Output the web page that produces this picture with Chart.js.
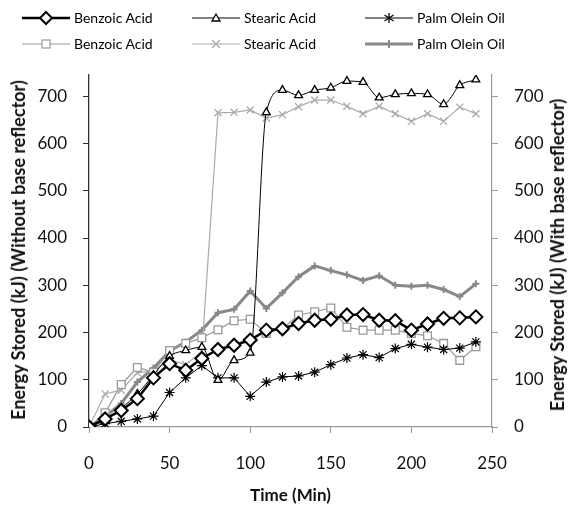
<!DOCTYPE html>
<html>
<head>
<meta charset="utf-8">
<script src="https://cdn.jsdelivr.net/npm/chart.js@4.4.1/dist/chart.umd.min.js"></script>
<style>
html,body{margin:0;padding:0;background:#fff;}
#wrap{position:relative;width:576px;height:506px;}
#c{position:absolute;left:0;top:0;}
.lg{position:absolute;display:flex;align-items:center;font-family:Lato,"Open Sans",sans-serif;font-size:14px;color:#000;white-space:nowrap;}
.lg svg{margin-right:4px;}
.vt{position:absolute;transform:translate(-50%,-50%) rotate(-90deg);font-family:Lato,"Open Sans",sans-serif;font-size:18px;font-weight:bold;color:#111;white-space:nowrap;line-height:20px;}
</style>
</head>
<body>
<div id="wrap">
<canvas id="c" width="576" height="506"></canvas>
<div class="lg" style="left:22px;top:9px;"><svg width="48" height="16"><line x1="0" y1="8" x2="48" y2="8" stroke="#000" stroke-width="2.5"/><polygon points="24,2 30,8 24,14 18,8" fill="#fff" stroke="#000" stroke-width="2"/></svg>Benzoic Acid</div>
<div class="lg" style="left:192px;top:9px;"><svg width="48" height="16"><line x1="0" y1="8" x2="48" y2="8" stroke="#000" stroke-width="1"/><polygon points="24,4 28,11 20,11" fill="#fff" stroke="#000" stroke-width="1.3"/></svg>Stearic Acid</div>
<div class="lg" style="left:365px;top:9px;"><svg width="48" height="16"><line x1="0" y1="8" x2="48" y2="8" stroke="#000" stroke-width="1"/><path d="M24,3 L24,13 M19.5,5 L28.5,11 M28.5,5 L19.5,11" stroke="#000" stroke-width="1.3"/></svg>Palm Olein Oil</div>
<div class="lg" style="left:22px;top:35px;"><svg width="48" height="16"><line x1="0" y1="8" x2="48" y2="8" stroke="#999" stroke-width="1"/><rect x="20" y="4" width="8" height="8" fill="#fff" stroke="#999" stroke-width="1.2"/></svg>Benzoic Acid</div>
<div class="lg" style="left:192px;top:35px;"><svg width="48" height="16"><line x1="0" y1="8" x2="48" y2="8" stroke="#aaa" stroke-width="1"/><path d="M20,4 L28,12 M28,4 L20,12" stroke="#aaa" stroke-width="1.2"/></svg>Stearic Acid</div>
<div class="lg" style="left:365px;top:35px;"><svg width="48" height="16"><line x1="0" y1="8" x2="48" y2="8" stroke="#888" stroke-width="3"/><path d="M24,4 L24,12" stroke="#888" stroke-width="2"/></svg>Palm Olein Oil</div>
<div class="vt" style="left:18px;top:250px;">Energy Stored (kJ) (Without base reflector)</div>
<div class="vt" style="left:557px;top:255px;">Energy Stored (kJ) (With base reflector)</div>
</div>
<script>
const timeMin = [0,10,20,30,40,50,60,70,80,90,100,110,120,130,140,150,160,170,180,190,200,210,220,230,240];
const benzoicWithout = [0,17,35,60,104,134,120,145,164,173,184,205,208,219,226,228,237,238,226,225,205,218,230,231,233];
const stearicWithout = [0,15,40,70,110,150,162,169,99,141,157,666,713,702,713,718,732,730,697,704,706,704,683,723,735];
const palmWithout = [0,7,12,17,23,73,104,130,104,104,65,95,106,108,116,132,146,153,147,166,175,169,164,167,180];
const benzoicWith = [0,30,90,126,116,162,177,189,206,225,228,198,208,237,244,252,211,205,205,205,198,193,177,141,170];
const stearicWith = [0,70,78,115,118,142,132,160,665,666,671,654,661,678,692,692,679,663,679,663,647,663,647,677,663];
const palmWith = [0,22,50,95,125,161,180,205,242,249,288,251,284,318,341,331,322,310,320,300,298,300,291,276,303];
const yTicks = [0,100,200,300,400,500,600,700];
const xTicks = [0,50,100,150,200,250];

const pts = arr => arr.map((v,i)=>({x:timeMin[i], y:v}));
const FONT = 'Lato, "Open Sans", sans-serif';

const datasets = [
  {label:'Benzoic Acid', data:pts(benzoicWithout), yAxisID:'y', borderColor:'#000', borderWidth:2.5, pointStyle:'rectRot', pointRadius:6.5, pointBorderWidth:2, pointBackgroundColor:'#fff', pointBorderColor:'#000'},
  {label:'Stearic Acid', data:pts(stearicWithout), yAxisID:'y', borderColor:'#000', borderWidth:1, pointStyle:'triangle', pointRadius:4.5, pointBorderWidth:1.3, pointBackgroundColor:'#fff', pointBorderColor:'#000', cubicInterpolationMode:'monotone'},
  {label:'Palm Olein Oil', data:pts(palmWithout), yAxisID:'y', borderColor:'#000', borderWidth:1, pointStyle:'star', pointRadius:5, pointBorderWidth:1.2, pointBackgroundColor:'#000', pointBorderColor:'#000'},
  {label:'Benzoic Acid', data:pts(benzoicWith), yAxisID:'y2', borderColor:'#999', borderWidth:1.2, pointStyle:'rect', pointRadius:5.5, pointBorderWidth:1.3, pointBackgroundColor:'#fff', pointBorderColor:'#999'},
  {label:'Stearic Acid', data:pts(stearicWith), yAxisID:'y2', borderColor:'#aaa', borderWidth:1.2, pointStyle:'crossRot', pointRadius:5, pointBorderWidth:1.3, pointBackgroundColor:'#aaa', pointBorderColor:'#aaa'},
  {label:'Palm Olein Oil', data:pts(palmWith), yAxisID:'y2', borderColor:'#888', borderWidth:3, pointStyle:'cross', pointRadius:3.5, pointBorderWidth:2, pointBackgroundColor:'#888', pointBorderColor:'#888'}
];

const yCommon = {
  type:'linear', min:0, max:745,
  afterBuildTicks: s => { s.ticks = yTicks.map(v=>({value:v})); },
  ticks:{font:{family:FONT, size:17}, color:'#111', padding:16},
  title:{display:false}
};

new Chart(document.getElementById('c'), {
  type:'line',
  data:{datasets},
  options:{
    responsive:false, animation:false,
    layout:{padding:{top:75, left:0, right:0, bottom:0}},
    plugins:{legend:{display:false}, tooltip:{enabled:false}},
    scales:{
      x:{type:'linear', min:0, max:250,
        afterBuildTicks: s => { s.ticks = xTicks.map(v=>({value:v})); },
        afterFit: s => { s.height = 79; },
        grid:{drawOnChartArea:false, tickLength:6, color:'#999'},
        border:{color:'#999', width:1.2},
        ticks:{font:{family:FONT, size:17}, color:'#111', padding:20, maxRotation:0},
        title:{display:true, text:'Time (Min)', font:{family:FONT, size:17, weight:'bold'}, color:'#111', padding:{top:4, bottom:0}}
      },
      y:Object.assign({}, yCommon, {position:'left',
        afterFit: s => { s.width = 89; },
        grid:{drawOnChartArea:false, tickLength:6, color:'#333'},
        border:{color:'#333', width:1.3}
      }),
      y2:Object.assign({}, yCommon, {position:'right',
        afterFit: s => { s.width = 84; },
        grid:{drawOnChartArea:false, tickLength:6, color:'#999'},
        border:{color:'#999', width:1.2}
      })
    }
  }
});
</script>
</body>
</html>
